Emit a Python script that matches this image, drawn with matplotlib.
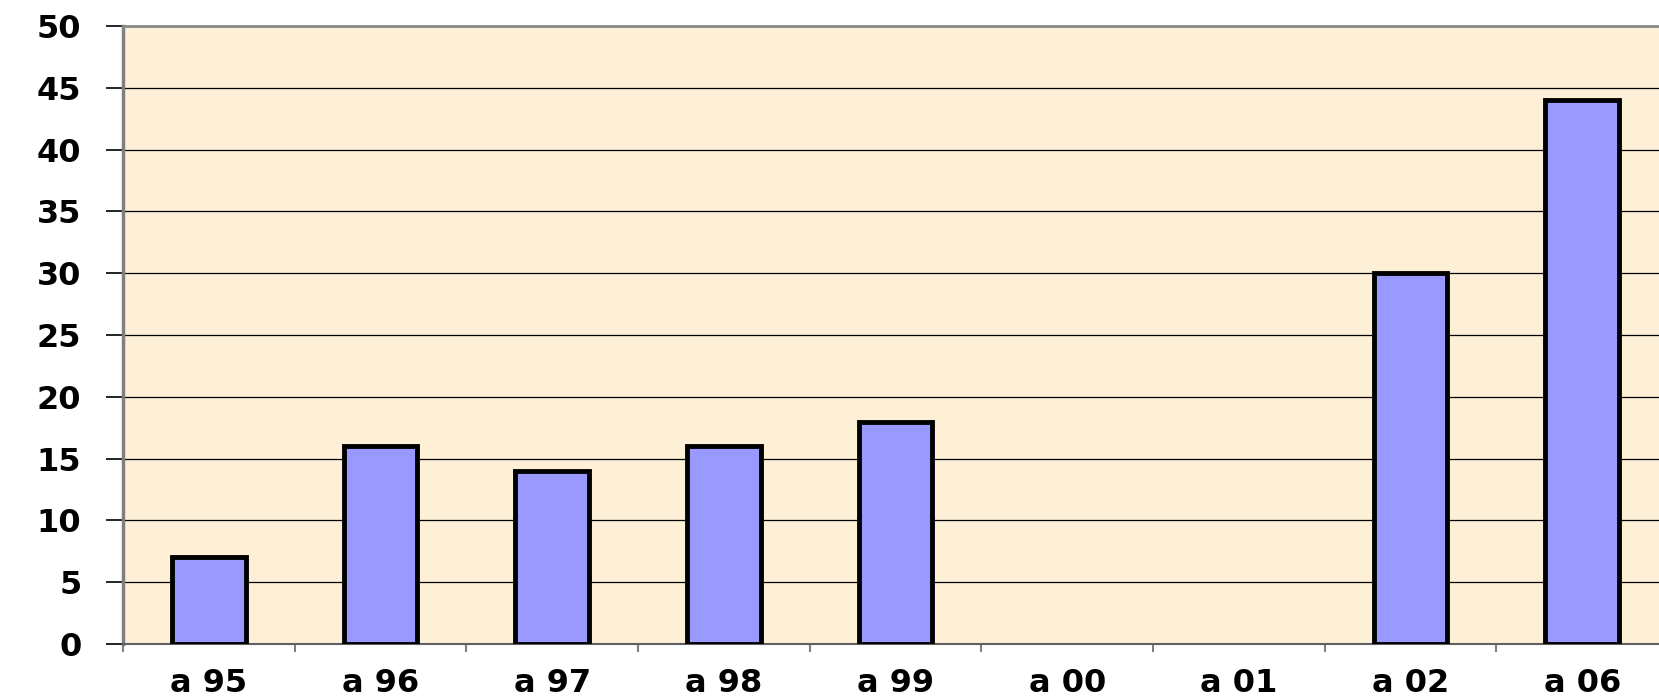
import matplotlib
matplotlib.use("Agg")
import matplotlib.pyplot as plt
import numpy as np

categories = ["a 95", "a 96", "a 97", "a 98", "a 99", "a 00", "a 01", "a 02", "a 06"]
values = [7, 16, 14, 16, 18, 0, 0, 30, 44]
yticks = list(range(0, 51, 5))

W, H = 1659, 699
fig = plt.figure(figsize=(W / 100, H / 100), dpi=100)
left, right, top, bottom = 123, 1668, 26, 644
ax = fig.add_axes([left / W, (H - bottom) / H, (right - left) / W, (bottom - top) / H])
ax.set_facecolor("#FDF0D6")

x = np.arange(len(categories))
ax.bar(x, [v if v > 0 else np.nan for v in values], width=0.43, color="#9999FF",
       edgecolor="black", linewidth=3.5, zorder=3)

ax.set_xlim(-0.5, len(categories) - 0.5)
ax.set_ylim(0, 50)
ax.set_yticks(yticks)
ax.set_yticklabels([str(t) for t in yticks])
ax.yaxis.grid(True, color="black", linewidth=0.9, zorder=1)
ax.set_axisbelow(True)

# boundary ticks (no labels) and centered labels
ax.set_xticks(np.arange(-0.5, len(categories), 1.0))
ax.set_xticklabels([])
ax.set_xticks(x, minor=True)
ax.set_xticklabels(categories, minor=True)
ax.tick_params(axis="x", which="major", length=6, width=1.5, color="#808080", direction="out")
ax.tick_params(axis="x", which="minor", length=0, pad=17, labelsize=23)
ax.tick_params(axis="y", length=12, width=1.2, color="black", direction="out", pad=18, labelsize=23)

for lab in ax.get_xticklabels(minor=True) + ax.get_yticklabels():
    lab.set_family("DejaVu Sans")
    lab.set_fontweight("bold")

ax.spines["left"].set_color("#808080")
ax.spines["left"].set_linewidth(2.5)
ax.spines["top"].set_color("#8a8a8a")
ax.spines["top"].set_linewidth(2)
ax.spines["bottom"].set_color("#606060")
ax.spines["bottom"].set_linewidth(1.5)
ax.spines["right"].set_visible(False)

fig.savefig("out.png", dpi=100)
